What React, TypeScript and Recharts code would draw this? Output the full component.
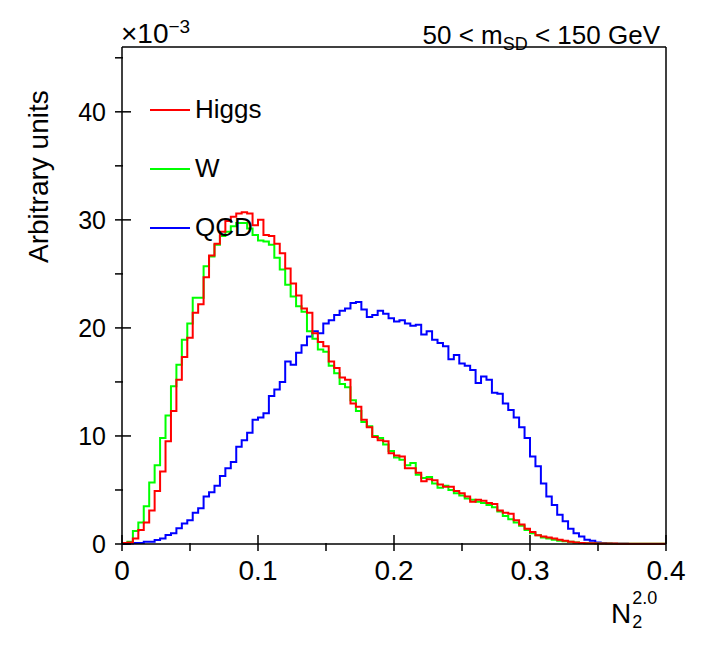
import { LineChart, Line, XAxis, YAxis } from "recharts";

// 100 bins of width 0.004 over N2 in [0, 0.4]; values in units of 1e-3
const higgs = [
  0.1, 0.15, 0.5, 1.3, 2.0, 3.1, 4.9, 6.7, 9.5, 12.3, 15.2, 17.3, 19.1, 21.4, 22.2, 24.7, 26.7, 27.8, 28.9, 29.9,
  30.3, 30.6, 30.7, 30.6, 29.5, 30.0, 28.6, 28.5, 27.8, 26.9, 25.5, 24.1, 23.0, 21.8, 21.4, 19.5, 18.7, 18.3, 16.9, 16.3,
  15.4, 15.2, 13.0, 12.7, 11.5, 10.8, 9.9, 9.6, 9.5, 8.4, 8.2, 8.1, 7.0, 7.0, 6.6, 5.8, 6.0, 5.9, 5.5, 5.3,
  5.3, 4.9, 4.7, 4.4, 3.9, 4.1, 4.0, 3.8, 3.7, 3.1, 2.9, 2.8, 2.2, 1.8, 1.4, 1.1, 0.8, 0.7, 0.6, 0.5,
  0.4, 0.3, 0.2, 0.15, 0.1, 0.08, 0.06, 0.05, 0.05, 0.04, 0.04, 0.03, 0.03, 0.03, 0.02, 0.02, 0.02, 0.02, 0.02, 0.02,
];
const wBoson = [
  0.1, 0.2, 1.2, 2.0, 3.5, 5.7, 7.3, 9.8, 11.9, 14.6, 16.6, 18.9, 20.4, 22.8, 22.8, 25.7, 26.6, 27.7, 28.5, 28.9,
  29.4, 29.7, 29.7, 29.2, 28.6, 28.1, 28.0, 27.7, 26.5, 25.4, 24.0, 22.9, 22.0, 21.5, 19.7, 19.0, 18.0, 17.8, 16.5, 15.8,
  14.8, 14.5, 13.3, 12.3, 11.3, 10.9, 10.0, 9.8, 9.2, 8.6, 8.0, 7.8, 7.3, 7.5, 6.4, 6.1, 6.2, 5.6, 5.2, 5.4,
  5.0, 4.7, 4.5, 4.2, 4.1, 3.9, 3.8, 3.6, 3.4, 3.0, 2.6, 2.3, 2.0, 1.7, 1.3, 1.0, 0.8, 0.6, 0.5, 0.4,
  0.3, 0.25, 0.2, 0.15, 0.1, 0.08, 0.06, 0.05, 0.04, 0.04, 0.03, 0.03, 0.03, 0.02, 0.02, 0.02, 0.02, 0.02, 0.02, 0.02,
];
const qcd = [
  0.0, 0.05, 0.1, 0.1, 0.2, 0.2, 0.37, 0.5, 0.83, 1.0, 1.45, 1.9, 2.2, 2.9, 3.3, 4.4, 4.8, 5.4, 6.3, 7.0,
  7.6, 9.0, 9.6, 10.3, 11.5, 11.7, 12.1, 13.7, 14.3, 15.0, 16.9, 16.6, 17.7, 18.4, 19.2, 19.7, 19.5, 20.4, 20.7, 21.2,
  21.6, 21.8, 22.3, 22.4, 21.7, 21.0, 21.2, 21.6, 21.3, 20.9, 20.6, 20.7, 20.4, 20.2, 20.3, 19.4, 19.7, 18.9, 18.6, 18.3,
  17.1, 17.5, 16.7, 16.5, 16.1, 14.9, 15.5, 15.2, 14.0, 13.9, 13.0, 12.4, 11.7, 10.8, 9.8, 8.1, 7.2, 5.6, 4.4, 3.6,
  2.7, 2.1, 1.4, 1.0, 0.7, 0.4, 0.3, 0.15, 0.1, 0.05, 0.03, 0.02, 0.02, 0.01, 0.01, 0.0, 0.0, 0.0, 0.0, 0.0,
];
const binWidth = 0.004;
const xTicks = [0, 0.05, 0.1, 0.15, 0.2, 0.25, 0.3, 0.35, 0.4];
const yTicks = [0, 5, 10, 15, 20, 25, 30, 35, 40, 45];
const legend = [
  { name: "Higgs", color: "#ff0000" },
  { name: "W", color: "#00ff00" },
  { name: "QCD", color: "#0000ff" },
];

const rows = higgs.map((h, i) => ({ x: i * binWidth, higgs: h, w: wBoson[i], qcd: qcd[i] }));
rows.push({ x: 0.4, higgs: higgs[99], w: wBoson[99], qcd: qcd[99] });

const font = "'Liberation Sans', Arial, sans-serif";
const axisStyle = { stroke: "#000", strokeWidth: 1.5 };

function XTick(props: any) {
  const { x, y, payload } = props;
  const tenths = payload.value * 10;
  const major = Math.abs(tenths - Math.round(tenths)) < 1e-6;
  return (
    <g>
      <line x1={x} x2={x} y1={y - 1} y2={y - 1 - (major ? 16 : 8)} stroke="#000" strokeWidth={1.5} />
      {major && (
        <text x={x} y={y + 28} textAnchor="middle" fontSize={28} fontFamily={font}>
          {Number(payload.value.toFixed(1))}
        </text>
      )}
    </g>
  );
}

function YTick(props: any) {
  const { x, y, payload } = props;
  const major = payload.value % 10 === 0;
  return (
    <g>
      <line x1={x + 1} x2={x + 1 + (major ? 16 : 8)} y1={y} y2={y} stroke="#000" strokeWidth={1.5} />
      {major && (
        <text x={x - 8} y={y + 9} textAnchor="end" fontSize={25} fontFamily={font}>
          {payload.value}
        </text>
      )}
    </g>
  );
}

export default function App() {
  return (
    <div style={{ position: "relative", width: 708, height: 664, fontFamily: font }}>
      <LineChart width={708} height={664} data={rows} margin={{ top: 38, right: 49, bottom: 127, left: 113 }}>
        <XAxis dataKey="x" type="number" domain={[0, 0.4]} ticks={xTicks} tick={<XTick />} tickLine={false}
          height={1} axisLine={axisStyle} interval={0} />
        <XAxis xAxisId="top" orientation="top" dataKey="x" type="number" domain={[0, 0.4]} tick={false}
          tickLine={false} height={1} axisLine={axisStyle} />
        <YAxis type="number" domain={[0, 46]} ticks={yTicks} tick={<YTick />} tickLine={false} width={1}
          axisLine={axisStyle} interval={0} />
        <YAxis yAxisId="right" orientation="right" type="number" domain={[0, 46]} tick={false} tickLine={false}
          width={1} axisLine={axisStyle} />
        <Line dataKey="qcd" type="stepAfter" stroke="#0000ff" strokeWidth={2} dot={false} isAnimationActive={false} />
        <Line dataKey="w" type="stepAfter" stroke="#00ff00" strokeWidth={2} dot={false} isAnimationActive={false} />
        <Line dataKey="higgs" type="stepAfter" stroke="#ff0000" strokeWidth={2} dot={false} isAnimationActive={false} />
      </LineChart>
      {legend.map((l, i) => (
        <div key={l.name} style={{ position: "absolute", left: 142, top: 86 + i * 59, display: "flex", alignItems: "center" }}>
          <div style={{ width: 40, height: 2, background: l.color }} />
          <span style={{ fontSize: 26, marginLeft: 5 }}>{l.name}</span>
        </div>
      ))}
      <div style={{ position: "absolute", left: 113, top: 8, fontSize: 28 }}>
        ×10<sup style={{ fontSize: 19 }}>−3</sup>
      </div>
      <div style={{ position: "absolute", right: 56, top: 12, fontSize: 26, whiteSpace: "nowrap" }}>
        50 &lt; m<sub style={{ fontSize: 18 }}>SD</sub> &lt; 150 GeV
      </div>
      <div style={{ position: "absolute", left: 603, top: 590, fontSize: 28 }}>
        N<span style={{ position: "relative" }}>
          <span style={{ position: "absolute", left: 1, top: -10, fontSize: 18 }}>2.0</span>
          <span style={{ position: "absolute", left: 1, top: 14, fontSize: 18 }}>2</span>
        </span>
      </div>
      <div style={{ position: "absolute", left: 15, top: 255, fontSize: 28, transform: "rotate(-90deg)",
        transformOrigin: "left top", whiteSpace: "nowrap" }}>
        Arbitrary units
      </div>
    </div>
  );
}
